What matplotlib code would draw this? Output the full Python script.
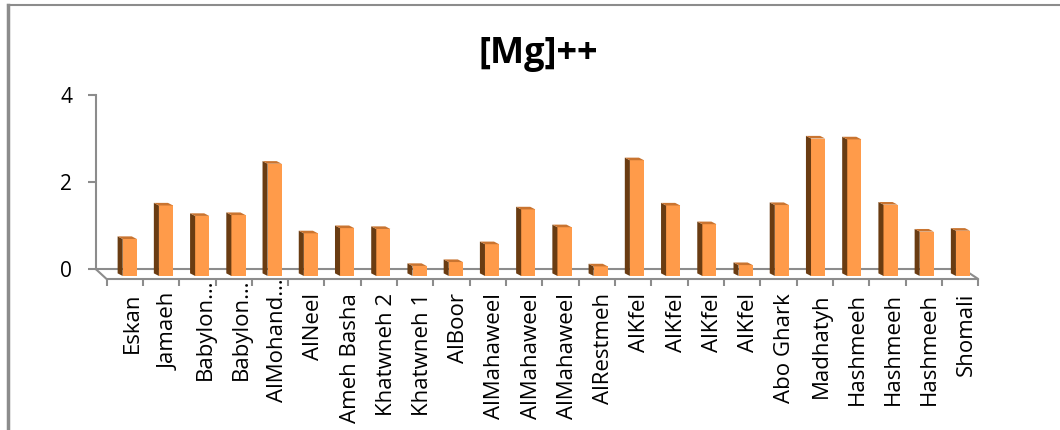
import numpy as np
import matplotlib.pyplot as plt
from matplotlib.collections import PolyCollection
from matplotlib.lines import Line2D

# ── Dados ─────────────────────────────────────────────────────────────────────
sites = ['Eskan', 'Jamaeh', 'Babylon…', 'Babylon…', 'AlMohand…', 'AlNeel',
         'Ameh Basha', 'Khatwneh 2', 'Khatwneh 1', 'AlBoor', 'AlMahaweel',
         'AlMahaweel', 'AlMahaweel', 'AlRestmeh', 'AlKfel', 'AlKfel', 'AlKfel',
         'AlKfel', 'Abo Ghark', 'Madhatyh', 'Hashmeeh', 'Hashmeeh', 'Hashmeeh',
         'Shomali']
mg = [0.69, 1.46, 1.22, 1.24, 2.42, 0.82, 0.94, 0.92, 0.07, 0.16, 0.57, 1.37,
      0.96, 0.06, 2.50, 1.46, 1.03, 0.09, 1.47, 3.00, 2.98, 1.48, 0.86, 0.88]
yticks = [0, 2, 4]

# ── Estilo ────────────────────────────────────────────────────────────────────
plt.rcParams['font.family'] = ['Open Sans', 'DejaVu Sans']
W, H = 1060, 430
FRONT = '#ff9b4a'
SIDE = '#6a3c12'
TOP = '#c97430'
GRID = '#8c8c8c'

fig = plt.figure(figsize=(W / 100, H / 100), dpi=100)


def caixa(esq, topo, dir, base):
    return [esq / W, 1 - base / H, (dir - esq) / W, (base - topo) / H]


ax = fig.add_axes(caixa(95.7, 95, 963, 269))
ax.set_xlim(-0.22, 23.72)
ax.set_ylim(0, 4)

# ── Colunas "3D" ──────────────────────────────────────────────────────────────
vals = np.array(mg)
x = np.arange(len(sites)) + 0.72
base = -0.16
larg = 0.39
dx, dy = -0.14, 0.06

ax.bar(x, vals - base, bottom=base, width=larg, color=FRONT,
       edgecolor='none', clip_on=False, zorder=3)

x0 = x - larg / 2
x1 = x + larg / 2
lados = [[(a, base), (a, v), (a + dx, v + dy), (a + dx, base + dy)]
         for a, v in zip(x0, vals)]
tampas = [[(a, v), (b, v), (b + dx, v + dy), (a + dx, v + dy)]
          for a, b, v in zip(x0, x1, vals)]
pc_lado = PolyCollection(lados, facecolors=SIDE, edgecolors='none', zorder=3)
pc_topo = PolyCollection(tampas, facecolors=TOP, edgecolors='none', zorder=3)
for pc in (pc_lado, pc_topo):
    pc.set_clip_on(False)
    ax.add_collection(pc)

# ── Eixos e piso ──────────────────────────────────────────────────────────────
for s in ('top', 'right'):
    ax.spines[s].set_visible(False)
for s in ('left', 'bottom'):
    ax.spines[s].set_color(GRID)
    ax.spines[s].set_linewidth(1.5)

ax.set_yticks(yticks)
ax.set_yticklabels([str(t) for t in yticks])
ax.tick_params(axis='y', length=6, width=1.5, color=GRID, pad=11,
               labelsize=15)
ax.set_xticks([])

ax.plot([-0.22, 0.08, 24.14, 23.72], [0, -0.23, -0.23, 0], color=GRID,
        lw=1.5, clip_on=False, zorder=2)
ax.vlines(np.linspace(0.08, 24.14, len(sites) + 1), -0.39, -0.23,
          color=GRID, lw=1.5, clip_on=False)

for i, nome in enumerate(sites):
    y_topo = -0.21 if nome.endswith('…') else -0.55
    ax.text(i + 0.8, y_topo, nome, rotation=90, ha='center', va='top',
            fontsize=16, clip_on=False)

# ── Título e moldura ──────────────────────────────────────────────────────────
fig.text(538 / W, 1 - 54 / H, '[Mg]++', ha='center', va='center',
         fontsize=26, fontweight='bold')

fig.add_artist(Line2D([7.5 / W, 7.5 / W], [0, 1 - 5 / H], color=GRID, lw=2.5))
fig.add_artist(Line2D([7.5 / W, 1], [1 - 5 / H, 1 - 5 / H], color=GRID, lw=1.5))

fig.savefig('out.png', dpi=100)
